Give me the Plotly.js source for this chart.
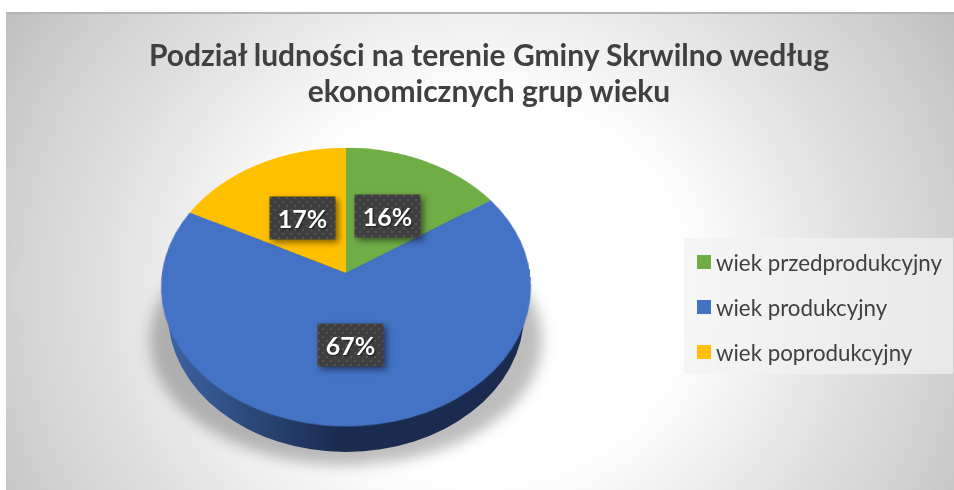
<!DOCTYPE html>
<html><head><meta charset="utf-8">
<script src="https://cdn.plot.ly/plotly-3.0.1.min.js"></script>
<style>
html,body{margin:0;padding:0;background:#fff;width:954px;height:490px;overflow:hidden}
#plate{position:absolute;left:6px;top:12px;width:948px;height:478px;border-top:2px solid #b4b4b4;box-sizing:border-box;
background:radial-gradient(ellipse 570px 525px at 474px 276px,#ffffff 0%,#ffffff 36%,#f1f1f1 50%,#e0e0e0 66%,#d4d4d4 80%,#c6c6c6 92%,#bebebe 100%)}
#chart{position:absolute;left:0;top:0;width:954px;height:490px}
.annotation rect.bg{filter:drop-shadow(3px 3px 3px rgba(0,0,0,.5))}
</style></head><body>
<div id="plate"></div><div id="chart"></div>
<script>
const categories=['wiek przedprodukcyjny','wiek produkcyjny','wiek poprodukcyjny'];
const shares=[15.6,67,17.4];
const sliceColors=['#70ad47','#4472c4','#ffc000'];
const chartTitle='Podział ludności na terenie Gminy Skrwilno według<br>ekonomicznych grup wieku';
const W=954,H=490,fx=x=>x/W,fy=y=>1-y/H;
const labelSpots=[[387,215.5],[350.5,344.5],[302.5,218]];
const R=184,cx=346,cy=273;
const layout={width:W,height:H,margin:{l:0,r:0,t:0,b:0,autoexpand:false},paper_bgcolor:'rgba(0,0,0,0)',plot_bgcolor:'rgba(0,0,0,0)',
 title:{text:chartTitle,x:fx(489),xanchor:'center',y:fy(66),yanchor:'top',font:{family:'Lato',size:30,color:'#404040',weight:700}},
 showlegend:true,
 legend:{x:fx(684),y:fy(250),xanchor:'left',yanchor:'top',font:{family:'Lato',size:22.3,color:'#404040'},bgcolor:'rgba(0,0,0,0)',traceorder:'normal'},
 shapes:[
  {type:'circle',xref:'paper',yref:'paper',x0:fx(150),x1:fx(542),y0:fy(215),y1:fy(465),fillcolor:'rgba(0,0,0,.26)',line:{width:0},layer:'below'},
  {type:'circle',xref:'paper',yref:'paper',x0:fx(168),x1:fx(524),y0:fy(176),y1:fy(452),fillcolor:'#1a2b4f',line:{width:0},layer:'below'},
  {type:'rect',xref:'paper',yref:'paper',x0:fx(684),x1:fx(953),y0:fy(238),y1:fy(374),fillcolor:'rgba(242,242,242,.7)',line:{width:0},layer:'below'}
 ],
 annotations:shares.map((v,i)=>({xref:'paper',yref:'paper',x:fx(labelSpots[i][0]),y:fy(labelSpots[i][1]),xanchor:'center',yanchor:'middle',text:'<b>'+Math.round(v)+'%</b>',showarrow:false,
   width:63,height:40,bgcolor:'#3f3f3f',font:{family:'Lato',size:25,color:'#fff',shadow:'1px 1px 2px rgba(0,0,0,.6)'}}))
};
const data=[{type:'pie',labels:categories,values:shares,sort:false,direction:'clockwise',rotation:0,textinfo:'none',
 marker:{colors:sliceColors,line:{width:0}},
 domain:{x:[fx(cx-R),fx(cx+R)],y:[(H-cy-R)/H,(H-cy+R)/H]}}];
Plotly.newPlot('chart',data,layout,{displayModeBar:false}).then(gd=>{
 const NS='http://www.w3.org/2000/svg';
 const svgs=gd.querySelectorAll('svg.main-svg');
 const base=svgs[0];
 // the pie layer gets its own svg so that only the pie is put in perspective
 const pieSvg=document.createElementNS(NS,'svg');
 pieSvg.setAttribute('width',W);pieSvg.setAttribute('height',H);
 pieSvg.style.cssText='position:absolute;left:0;top:0;overflow:visible;pointer-events:none;transform-origin:'+cx+'px '+cy+'px;transform:perspective(1207px) rotateX(41.45deg)';
 pieSvg.appendChild(base.querySelector('.pielayer'));
 base.parentNode.insertBefore(pieSvg,svgs[1]);
 // gradient of the side wall, shadow blur, dotted label boxes
 const defs=document.createElementNS(NS,'defs');
 defs.innerHTML='<linearGradient id="wall" gradientUnits="userSpaceOnUse" x1="168" x2="340" y1="0" y2="0"><stop offset="0" stop-color="#3d63a3"/><stop offset="1" stop-color="#1a2b4f"/></linearGradient>';
 base.insertBefore(defs,base.firstChild);
 const sh=base.querySelectorAll('.layer-below .shapelayer path');
 sh[0].style.filter='blur(7px)';
 sh[1].style.fill='url(#wall)';
 const ldefs=document.createElementNS(NS,'defs');
 ldefs.innerHTML='<pattern id="dots" width="8" height="8" patternUnits="userSpaceOnUse"><rect width="8" height="8" fill="#3f3f3f"/><rect x="1" y="1" width="2" height="2" fill="#545454"/><rect x="5" y="5" width="2" height="2" fill="#545454"/></pattern>';
 svgs[1].insertBefore(ldefs,svgs[1].firstChild);
 gd.querySelectorAll('.annotation rect.bg').forEach(r=>{r.style.fill='url(#dots)';r.style.fillOpacity=1;});
 // title line spacing
 const lines=gd.querySelectorAll('.gtitle tspan.line');
 if(lines[1])lines[1].setAttribute('dy','36px');
 // legend spacing and key size
 const lg=gd.querySelector('.legend');
 lg.querySelector('.scrollbox').removeAttribute('clip-path');
 lg.querySelectorAll('.traces').forEach((t,i)=>{
   t.setAttribute('transform','translate(0,'+(12+i*45)+')');
   const p=t.querySelector('.legendpoints path');
   if(p)p.setAttribute('d','M7,7H-7V-7H7Z');
   const tx=t.querySelector('.legendtext');
   tx.setAttribute('x',parseFloat(tx.getAttribute('x'))-8);
 });
});
</script></body></html>
